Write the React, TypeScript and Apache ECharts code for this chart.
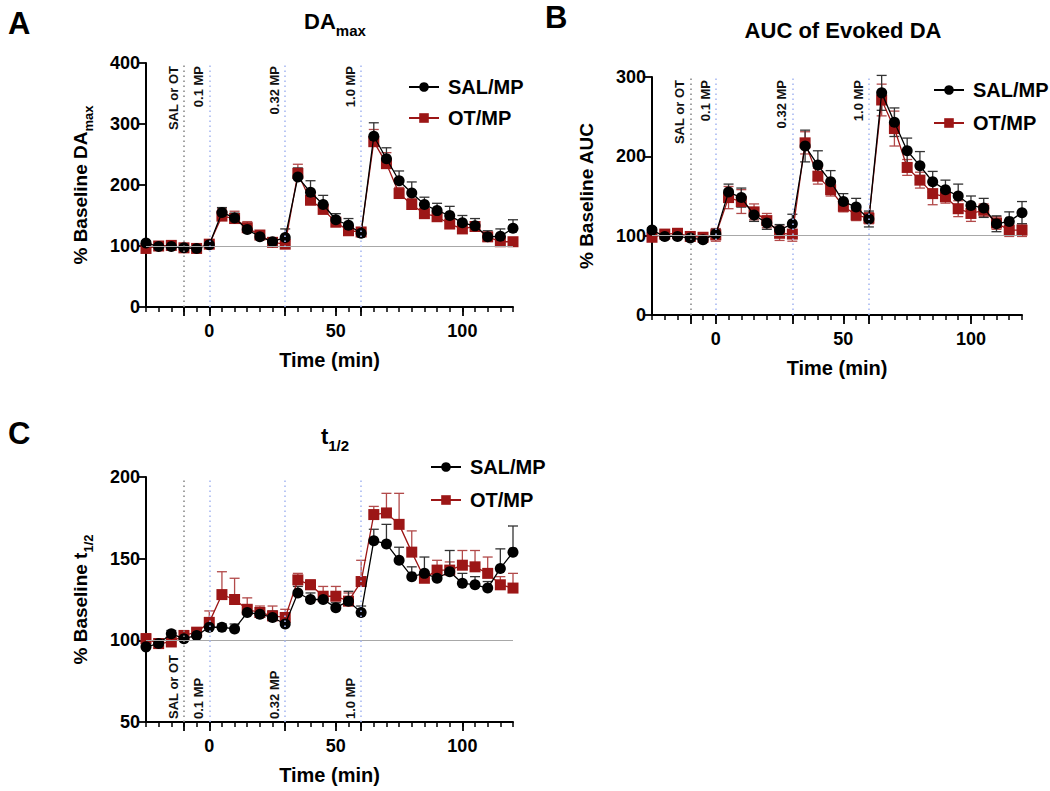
import React, { useEffect, useRef } from "react";
import * as echarts from "echarts";

const TIME = [-25, -20, -15, -10, -5, 0, 5, 10, 15, 20, 25, 30, 35, 40, 45, 50, 55, 60, 65, 70, 75, 80, 85, 90, 95, 100, 105, 110, 115, 120];

// Panel A: DAmax
const A_SAL = [105, 99, 99, 97, 96, 102, 155, 146, 127, 115, 107, 114, 213, 188, 168, 143, 134, 121, 280, 243, 207, 187, 168, 158, 150, 138, 133, 115, 116, 129];
const A_SAL_SEM = [3, 2, 3, 3, 3, 4, 8, 8, 6, 5, 4, 14, 15, 19, 15, 10, 11, 5, 22, 18, 16, 18, 12, 12, 15, 12, 12, 10, 12, 14];
const A_OT = [96, 100, 101, 97, 96, 103, 149, 145, 130, 118, 106, 103, 219, 175, 160, 139, 125, 123, 271, 235, 186, 168, 153, 148, 136, 128, 132, 115, 107, 107];
const A_OT_SEM = [3, 3, 3, 3, 3, 5, 12, 12, 10, 6, 4, 5, 15, 8, 8, 7, 7, 6, 20, 18, 10, 10, 9, 8, 10, 9, 7, 6, 6, 5];

// Panel B: AUC of evoked DA
const B_SAL = [107, 99, 99, 97, 95, 102, 155, 148, 126, 116, 107, 115, 213, 189, 168, 143, 136, 121, 280, 243, 207, 188, 168, 158, 150, 138, 135, 115, 118, 129];
const B_SAL_SEM = [3, 3, 3, 3, 3, 6, 10, 12, 8, 8, 7, 12, 20, 18, 14, 10, 11, 10, 22, 18, 16, 18, 13, 12, 15, 12, 12, 10, 12, 14];
const B_OT = [98, 102, 103, 99, 98, 101, 148, 143, 130, 119, 103, 102, 217, 175, 158, 137, 126, 122, 271, 235, 186, 170, 153, 149, 134, 128, 132, 116, 107, 107];
const B_OT_SEM = [4, 4, 4, 4, 4, 8, 14, 15, 10, 9, 9, 9, 14, 10, 8, 7, 7, 7, 20, 22, 10, 10, 14, 8, 10, 10, 8, 8, 8, 8];

// Panel C: t1/2
const C_SAL = [96, 98, 104, 101, 103, 108, 108, 107, 117, 116, 114, 110, 129, 125, 125, 120, 124, 117, 161, 159, 149, 139, 141, 138, 142, 135, 134, 132, 144, 154];
const C_SAL_SEM = [3, 3, 2, 2, 2, 2, 2, 3, 4, 4, 4, 3, 4, 4, 3, 3, 6, 4, 7, 12, 8, 6, 10, 4, 13, 6, 5, 4, 12, 16];
const C_OT = [101, 98, 99, 103, 105, 111, 128, 125, 119, 117, 115, 114, 137, 134, 127, 127, 124, 136, 177, 178, 171, 154, 138, 143, 143, 146, 145, 141, 134, 132];
const C_OT_SEM = [3, 2, 2, 2, 2, 7, 14, 13, 7, 4, 6, 5, 4, 3, 6, 6, 5, 13, 5, 12, 19, 13, 4, 6, 5, 9, 10, 10, 5, 9];

const MARKER_X = [-10, 0, 30, 60];
const MARKER_LABELS = ["SAL or OT", "0.1 MP", "0.32 MP", "1.0 MP"];
const X_LABELS = [0, 50, 100];
const X_LONG_TICKS = [-10, 0, 30, 50, 60, 100];

const RED = "#9c1616";
const RED_ERR = "#b24a4a";
const BLUE_DOT = "#a9b9f2";
const GRAY_DOT = "#8a8a8a";
const FONT = "Liberation Sans, Arial, sans-serif";

type Panel = {
  left: number; top: number; width: number; height: number;
  ymin: number; ymax: number; yint: number;
  sal: number[]; salSem: number[]; ot: number[]; otSem: number[];
  both: boolean; labelsAtBottom: boolean;
  yName: string; nameGap: number;
  legendLeft: number; legendTop: number; legendGap: number;
};

const PANELS: Panel[] = [
  { left: 146, top: 63, width: 367, height: 244, ymin: 0, ymax: 400, yint: 100, sal: A_SAL, salSem: A_SAL_SEM, ot: A_OT, otSem: A_OT_SEM, both: false, labelsAtBottom: false, yName: "{a|% Baseline DA}{b|max}", nameGap: 51, legendLeft: 403, legendTop: 72, legendGap: 11 },
  { left: 652, top: 77, width: 370, height: 238, ymin: 0, ymax: 300, yint: 100, sal: B_SAL, salSem: B_SAL_SEM, ot: B_OT, otSem: B_OT_SEM, both: true, labelsAtBottom: false, yName: "{a|% Baseline AUC}", nameGap: 51, legendLeft: 928, legendTop: 75, legendGap: 13 },
  { left: 146, top: 477, width: 367, height: 245, ymin: 50, ymax: 200, yint: 50, sal: C_SAL, salSem: C_SAL_SEM, ot: C_OT, otSem: C_OT_SEM, both: false, labelsAtBottom: true, yName: "{a|% Baseline t}{b|1/2}", nameGap: 51, legendLeft: 425, legendTop: 452, legendGap: 13 },
];

const richSub = {
  a: { fontSize: 19, fontWeight: "bold", fontFamily: FONT, color: "#000", verticalAlign: "bottom", padding: [0, 0, 5, 0] },
  b: { fontSize: 13, fontWeight: "bold", fontFamily: FONT, color: "#000", verticalAlign: "bottom" },
};
const richTitle = {
  a: { fontSize: 22, fontWeight: "bold", fontFamily: FONT, color: "#000", verticalAlign: "bottom", padding: [0, 0, 6, 0] },
  b: { fontSize: 15, fontWeight: "bold", fontFamily: FONT, color: "#000", verticalAlign: "bottom" },
};

function errRender(both: boolean, color: string) {
  return (params: any, api: any) => {
    const x = api.value(0);
    const m = api.value(1);
    const e = api.value(2);
    const top = api.coord([x, m + e]);
    const bot = api.coord([x, both ? m - e : m]);
    const cw = 5;
    const style = { stroke: color, lineWidth: 1.3, fill: "none" };
    const children: any[] = [
      { type: "line", shape: { x1: top[0], y1: top[1], x2: bot[0], y2: bot[1] }, style },
      { type: "line", shape: { x1: top[0] - cw, y1: top[1], x2: top[0] + cw, y2: top[1] }, style },
    ];
    if (both) {
      children.push({ type: "line", shape: { x1: bot[0] - cw, y1: bot[1], x2: bot[0] + cw, y2: bot[1] }, style });
    }
    return { type: "group", children };
  };
}

export default function App() {
  const ref = useRef<HTMLDivElement>(null);
  useEffect(() => {
    document.body.style.margin = "0";
    const chart = echarts.init(ref.current!, null, { renderer: "svg" });
    const grid: any[] = [];
    const xAxis: any[] = [];
    const yAxis: any[] = [];
    const series: any[] = [];
    const legend: any[] = [];

    PANELS.forEach((p, i) => {
      grid.push({ left: p.left, top: p.top, width: p.width, height: p.height, containLabel: false });
      xAxis.push({
        type: "value", gridIndex: i, min: -25, max: 120, interval: 5,
        axisLine: { show: true, onZero: false, lineStyle: { color: "#000", width: 2 } },
        axisTick: { show: true, length: 5, lineStyle: { color: "#000", width: 1.5 } },
        axisLabel: { show: false }, splitLine: { show: false },
      });
      xAxis.push({
        type: "value", gridIndex: i, min: -25, max: 120, position: "bottom", offset: 0,
        axisLine: { show: false, onZero: false },
        axisTick: { show: true, length: 9, customValues: X_LONG_TICKS, lineStyle: { color: "#000", width: 1.8 } },
        axisLabel: { show: true, customValues: X_LABELS, fontSize: 18, fontWeight: "bold", fontFamily: FONT, color: "#000", margin: 15 },
        splitLine: { show: false },
        name: "Time (min)", nameLocation: "middle", nameGap: 43,
        nameTextStyle: { fontSize: 20, fontWeight: "bold", fontFamily: FONT, color: "#000" },
      });
      yAxis.push({
        type: "value", gridIndex: i, min: p.ymin, max: p.ymax, interval: p.yint,
        axisLine: { show: true, onZero: false, lineStyle: { color: "#000", width: 2 } },
        axisTick: { show: true, length: 7, lineStyle: { color: "#000", width: 1.8 } },
        axisLabel: { fontSize: 18, fontWeight: "bold", fontFamily: FONT, color: "#000", margin: 6 },
        splitLine: { show: false },
        name: p.yName, nameLocation: "middle", nameGap: p.nameGap, nameRotate: 90,
        nameTextStyle: { rich: richSub },
      });

      // reference lines
      series.push({
        type: "line", name: "ref" + i, xAxisIndex: 2 * i, yAxisIndex: i, data: [], z: 1,
        silent: true,
        markLine: {
          silent: true, symbol: ["none", "none"], animation: false,
          data: [
            { yAxis: 100, lineStyle: { color: "#a8a8a8", width: 1.2, type: "solid" }, label: { show: false } },
            ...MARKER_X.map((x, k) => ({
              xAxis: x,
              lineStyle: { color: k === 0 ? GRAY_DOT : BLUE_DOT, width: 1.6, type: [1.5, 3.5] },
              label: {
                show: true, formatter: MARKER_LABELS[k],
                position: p.labelsAtBottom ? "insideStartTop" : "insideEndTop",
                distance: [3, 4],
                fontSize: 13, fontWeight: "bold", fontFamily: FONT, color: "#111",
              },
            })),
          ],
        },
      });

      const ot = TIME.map((t, k) => [t, p.ot[k]]);
      const sal = TIME.map((t, k) => [t, p.sal[k]]);
      series.push({
        type: "custom", name: "otErr" + i, xAxisIndex: 2 * i, yAxisIndex: i, z: 2,
        renderItem: errRender(p.both, RED_ERR),
        data: TIME.map((t, k) => [t, p.ot[k], p.otSem[k]]),
        encode: { x: 0, y: 1 },
      });
      series.push({
        type: "custom", name: "salErr" + i, xAxisIndex: 2 * i, yAxisIndex: i, z: 2,
        renderItem: errRender(p.both, "#333"),
        data: TIME.map((t, k) => [t, p.sal[k], p.salSem[k]]),
        encode: { x: 0, y: 1 },
      });
      series.push({
        type: "line", name: "OT/MP", xAxisIndex: 2 * i, yAxisIndex: i, data: ot, z: 3,
        symbol: "rect", symbolSize: 11, showAllSymbol: true,
        itemStyle: { color: RED }, lineStyle: { color: RED, width: 1.3 },
      });
      series.push({
        type: "line", name: "SAL/MP", xAxisIndex: 2 * i, yAxisIndex: i, data: sal, z: 4,
        symbol: "circle", symbolSize: 11, showAllSymbol: true,
        itemStyle: { color: "#000" }, lineStyle: { color: "#000", width: 1.3 },
      });
      legend.push({
        data: ["SAL/MP", "OT/MP"], orient: "vertical", left: p.legendLeft, top: p.legendTop,
        itemWidth: 30, itemHeight: 12, itemGap: p.legendGap, selectedMode: false,
        textStyle: { fontSize: 20, fontWeight: "bold", fontFamily: FONT, color: "#000", lineHeight: 20, padding: [0, 0, 0, 4] },
      });
    });

    chart.setOption({
      animation: false,
      backgroundColor: "#fff",
      grid, xAxis, yAxis, series, legend,
      title: [
        { text: "{a|DA}{b|max}", left: 330, top: 5, textAlign: "center", textStyle: { rich: richTitle } },
        { text: "AUC of Evoked DA", left: 838, top: 14, textAlign: "center", textStyle: { fontSize: 22, fontWeight: "bold", fontFamily: FONT, color: "#000" } },
        { text: "{a|t}{b|1/2}", left: 330, top: 420, textAlign: "center", textStyle: { rich: richTitle } },
      ],
      graphic: [
        { type: "text", left: 8, top: 8, style: { text: "A", fontSize: 31, fontWeight: "bold", fontFamily: FONT, fill: "#000" } },
        { type: "text", left: 545, top: 2, style: { text: "B", fontSize: 31, fontWeight: "bold", fontFamily: FONT, fill: "#000" } },
        { type: "text", left: 8, top: 418, style: { text: "C", fontSize: 31, fontWeight: "bold", fontFamily: FONT, fill: "#000" } },
      ],
    });
    return () => chart.dispose();
  }, []);
  return <div ref={ref} style={{ width: 1050, height: 791, background: "#fff" }} />;
}
